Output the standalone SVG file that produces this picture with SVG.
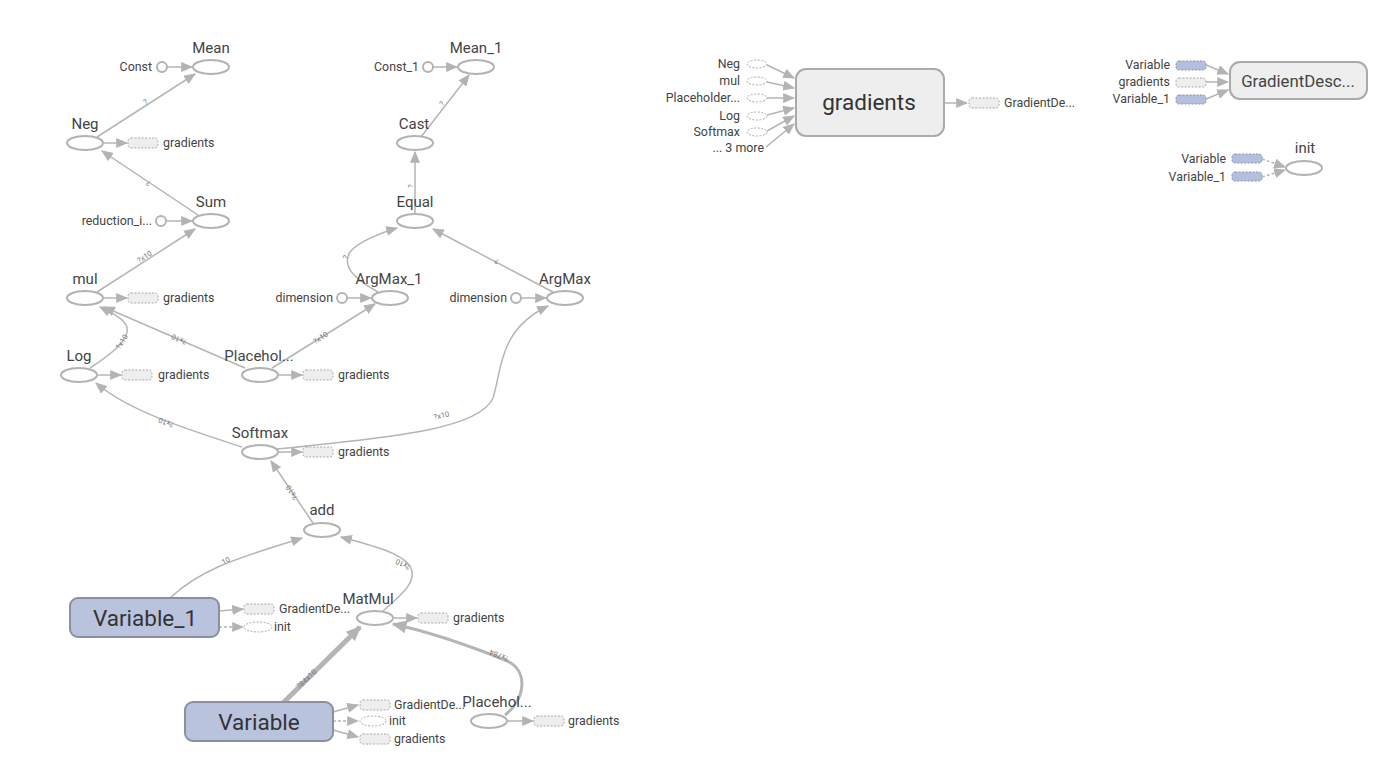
<svg xmlns="http://www.w3.org/2000/svg" width="1400" height="772" viewBox="0 0 1400 772">
<style>
  text { font-family: Roboto, "Liberation Sans", sans-serif; fill: #444; }
  .lbl { font-size: 15px; text-anchor: middle; }
  .sm { font-size: 12.4px; }
  .end { text-anchor: end; }
  .big { font-size: 22.5px; text-anchor: middle; fill: #333; }
  .el { font-size: 7.5px; text-anchor: middle; fill: #777; }
  .op { fill: #fff; stroke: #b3b3b3; stroke-width: 2; }
  .cst { fill: #fff; stroke: #b3b3b3; stroke-width: 2; }
  .sbox { fill: #eee; stroke: #aaa; stroke-width: 1; stroke-dasharray: 2 1.5; }
  .svar { fill: #b4bfdd; stroke: #8c95ad; stroke-width: 1; stroke-dasharray: 2 1.5; }
  .sell { fill: #fff; stroke: #aaa; stroke-width: 1; stroke-dasharray: 2 1.5; }
  .var { fill: #b9c3dd; stroke: #8a90a0; stroke-width: 2; }
  .meta { fill: #eee; stroke: #aaa; stroke-width: 2; }
  .e { fill: none; stroke: #b5b5b5; stroke-width: 1.5; marker-end: url(#arr); }
  .ed { fill: none; stroke: #b5b5b5; stroke-width: 1.5; stroke-dasharray: 3 2; marker-end: url(#arr); }
  .eth { fill: none; stroke: #b5b5b5; marker-end: url(#arrL); }
</style>
<defs>
  <marker id="arr" viewBox="0 0 10 10" refX="9" refY="5" markerWidth="12" markerHeight="10" markerUnits="userSpaceOnUse" orient="auto" preserveAspectRatio="none">
    <path d="M0,0 L10,5 L0,10 z" fill="#b3b3b3"/>
  </marker>
  <marker id="arrL" viewBox="0 0 10 10" refX="9" refY="5" markerWidth="15" markerHeight="13" markerUnits="userSpaceOnUse" orient="auto" preserveAspectRatio="none">
    <path d="M0,0 L10,5 L0,10 z" fill="#b3b3b3"/>
  </marker>
</defs>

<!-- edges of the main graph -->
<g id="edges">
  <path class="e" d="M167,67 L192,67"/>
  <path class="e" d="M97,137 L195,74"/>
  <path class="e" d="M104,143 L127,143"/>
  <path class="e" d="M166,221 L192,221"/>
  <path class="e" d="M198,215 L102,151"/>
  <path class="e" d="M104,298 L127,298"/>
  <path class="e" d="M97,292 L195,229"/>
  <path class="e" d="M98,375 L121,375"/>
  <path class="e" d="M90,368 C110,355 130,340 127,327 C124,318 110,312 100,307"/>
  <path class="e" d="M245,368 L104,307"/>
  <path class="e" d="M279,375 L302,375"/>
  <path class="e" d="M272,368 L375,304"/>
  <path class="e" d="M347,298 L371,298"/>
  <path class="e" d="M521,298 L546,298"/>
  <path class="e" d="M378,292 C360,282 340,268 350,252 C358,242 380,233 397,228"/>
  <path class="e" d="M553,292 L433,229"/>
  <path class="e" d="M415,214 L415,152"/>
  <path class="e" d="M421,137 L469,75"/>
  <path class="e" d="M433,67 L457,67"/>
  <path class="e" d="M279,452 L302,452"/>
  <path class="e" d="M242,447 C190,430 130,412 96,383"/>
  <path class="e" d="M277,449 C400,437 480,428 493,398 C502,370 498,330 548,306"/>
  <path class="e" d="M313,523 L271,461"/>
  <path class="e" d="M170,598 C205,565 250,555 302,538"/>
  <path class="e" d="M219,611 L243,609"/>
  <path class="ed" d="M219,627 L243,627"/>
  <path class="e" d="M383,611 C405,592 418,580 410,566 C400,552 370,545 341,537"/>
  <path class="e" d="M394,618 L417,618"/>
  <path class="eth" stroke-width="5" d="M283,703 L360,627"/>
  <path class="e" d="M333,712 L358,705"/>
  <path class="ed" d="M333,721 L358,721"/>
  <path class="e" d="M333,730 L358,737"/>
  <path class="eth" stroke-width="3" d="M505,715 C525,700 530,670 505,660 C470,646 430,632 393,624"/>
  <path class="e" d="M508,721 L533,721"/>
  <!-- gradients namespace inputs/outputs -->
  <path class="e" d="M767,65 L794,78"/>
  <path class="e" d="M767,82 L794,88"/>
  <path class="e" d="M767,98 L794,98"/>
  <path class="e" d="M767,115 L794,108"/>
  <path class="e" d="M767,131 L794,116"/>
  <path class="e" d="M766,147 L794,124"/>
  <path class="e" d="M944,103 L967,103"/>
  <!-- GradientDescent inputs -->
  <path class="e" d="M1206,65 L1228,74"/>
  <path class="e" d="M1206,82 L1228,82"/>
  <path class="e" d="M1206,99 L1228,90"/>
  <!-- init control deps -->
  <path class="ed" d="M1262,159 L1285,167"/>
  <path class="ed" d="M1262,177 L1285,170"/>
</g>

<!-- tensor shape labels -->
<g id="edge-labels">
  <text class="el" transform="translate(147,104) rotate(-33)">?</text>
  <text class="el" transform="translate(150,181) rotate(214)">?</text>
  <text class="el" transform="translate(146,259) rotate(-32)">?x10</text>
  <text class="el" transform="translate(124,343) rotate(-58)">?x10</text>
  <text class="el" transform="translate(180,337) rotate(203)">?x10</text>
  <text class="el" transform="translate(322,340) rotate(-32)">?x10</text>
  <text class="el" transform="translate(348,258) rotate(-70)">?</text>
  <text class="el" transform="translate(498,259) rotate(207)">?</text>
  <text class="el" transform="translate(413,186) rotate(-90)">?</text>
  <text class="el" transform="translate(444,105) rotate(-52)">?</text>
  <text class="el" transform="translate(167,420) rotate(200)">?x10</text>
  <text class="el" transform="translate(442,418) rotate(-12)">?x10</text>
  <text class="el" transform="translate(294,491) rotate(237)">?x10</text>
  <text class="el" transform="translate(227,563) rotate(-27)">10</text>
  <text class="el" transform="translate(404,562) rotate(205)">?x10</text>
  <text class="el" transform="translate(308,681) rotate(-44)">784x10</text>
  <text class="el" transform="translate(500,653) rotate(200)">?x784</text>
</g>

<g id="Mean">
  <ellipse class="op" cx="211" cy="67" rx="18" ry="7"/>
  <text class="lbl" x="211" y="53">Mean</text>
</g>
<g id="Const">
  <circle class="cst" cx="162" cy="67" r="5"/>
  <text class="sm end" x="152" y="71">Const</text>
</g>
<g id="Neg">
  <ellipse class="op" cx="85" cy="143" rx="18" ry="7"/>
  <text class="lbl" x="85" y="129">Neg</text>
  <rect class="sbox" x="128" y="138" width="30" height="10" rx="3"/>
  <text class="sm" x="163" y="147">gradients</text>
</g>
<g id="Sum">
  <ellipse class="op" cx="211" cy="221" rx="18" ry="7"/>
  <text class="lbl" x="211" y="207">Sum</text>
</g>
<g id="reduction_indices">
  <circle class="cst" cx="161" cy="221" r="5"/>
  <text class="sm end" x="152" y="225">reduction_i...</text>
</g>
<g id="mul">
  <ellipse class="op" cx="85" cy="298" rx="18" ry="7"/>
  <text class="lbl" x="85" y="284">mul</text>
  <rect class="sbox" x="128" y="293" width="30" height="10" rx="3"/>
  <text class="sm" x="163" y="302">gradients</text>
</g>
<g id="Log">
  <ellipse class="op" cx="79" cy="375" rx="18" ry="7"/>
  <text class="lbl" x="79" y="361">Log</text>
  <rect class="sbox" x="122" y="370" width="30" height="10" rx="3"/>
  <text class="sm" x="158" y="379">gradients</text>
</g>
<g id="Placeholder_1">
  <ellipse class="op" cx="260" cy="375" rx="18" ry="7"/>
  <text class="lbl" x="259" y="361">Placehol...</text>
  <rect class="sbox" x="303" y="370" width="30" height="10" rx="3"/>
  <text class="sm" x="338" y="379">gradients</text>
</g>
<g id="ArgMax_1">
  <ellipse class="op" cx="390" cy="298" rx="18" ry="7"/>
  <text class="lbl" x="389" y="284">ArgMax_1</text>
  <circle class="cst" cx="342" cy="298" r="5"/>
  <text class="sm end" x="333" y="302">dimension</text>
</g>
<g id="ArgMax">
  <ellipse class="op" cx="565" cy="298" rx="18" ry="7"/>
  <text class="lbl" x="565" y="284">ArgMax</text>
  <circle class="cst" cx="516" cy="298" r="5"/>
  <text class="sm end" x="507" y="302">dimension</text>
</g>
<g id="Equal">
  <ellipse class="op" cx="415" cy="221" rx="18" ry="7"/>
  <text class="lbl" x="415" y="207">Equal</text>
</g>
<g id="Cast">
  <ellipse class="op" cx="415" cy="143" rx="18" ry="7"/>
  <text class="lbl" x="414" y="129">Cast</text>
</g>
<g id="Mean_1">
  <ellipse class="op" cx="476" cy="67" rx="18" ry="7"/>
  <text class="lbl" x="476" y="53">Mean_1</text>
  <circle class="cst" cx="428" cy="67" r="5"/>
  <text class="sm end" x="419" y="71">Const_1</text>
</g>
<g id="Softmax">
  <ellipse class="op" cx="260" cy="452" rx="18" ry="7"/>
  <text class="lbl" x="260" y="438">Softmax</text>
  <rect class="sbox" x="303" y="447" width="30" height="10" rx="3"/>
  <text class="sm" x="338" y="456">gradients</text>
</g>
<g id="add">
  <ellipse class="op" cx="322" cy="530" rx="18" ry="7"/>
  <text class="lbl" x="322" y="515">add</text>
</g>
<g id="Variable_1">
  <rect class="var" x="70" y="598" width="149" height="39" rx="8"/>
  <text class="big" x="145" y="626">Variable_1</text>
  <rect class="sbox" x="244" y="604" width="30" height="10" rx="3"/>
  <text class="sm" x="279" y="613">GradientDe...</text>
  <ellipse class="sell" cx="258" cy="627" rx="14" ry="5"/>
  <text class="sm" x="274" y="631">init</text>
</g>
<g id="MatMul">
  <ellipse class="op" cx="375" cy="618" rx="18" ry="7"/>
  <text class="lbl" x="368" y="604">MatMul</text>
  <rect class="sbox" x="418" y="613" width="30" height="10" rx="3"/>
  <text class="sm" x="453" y="622">gradients</text>
</g>
<g id="Variable">
  <rect class="var" x="185" y="702" width="148" height="39" rx="8"/>
  <text class="big" x="259" y="730">Variable</text>
  <rect class="sbox" x="360" y="700" width="30" height="10" rx="3"/>
  <text class="sm" x="394" y="709">GradientDe...</text>
  <ellipse class="sell" cx="373" cy="721" rx="13" ry="5"/>
  <text class="sm" x="389" y="725">init</text>
  <rect class="sbox" x="360" y="734" width="30" height="10" rx="3"/>
  <text class="sm" x="394" y="743">gradients</text>
</g>
<g id="Placeholder">
  <ellipse class="op" cx="489" cy="721" rx="18" ry="7"/>
  <text class="lbl" x="497" y="707">Placehol...</text>
  <rect class="sbox" x="534" y="716" width="30" height="10" rx="3"/>
  <text class="sm" x="568" y="725">gradients</text>
</g>

<g id="gradients">
  <rect class="meta" x="796" y="69" width="148" height="67" rx="10"/>
  <text class="big" x="869" y="110">gradients</text>
  <text class="sm end" x="740" y="68">Neg</text>
  <ellipse class="sell" cx="757" cy="64" rx="10" ry="4"/>
  <text class="sm end" x="740" y="85">mul</text>
  <ellipse class="sell" cx="757" cy="81" rx="10" ry="4"/>
  <text class="sm end" x="740" y="102">Placeholder...</text>
  <ellipse class="sell" cx="757" cy="98" rx="10" ry="4"/>
  <text class="sm end" x="740" y="120">Log</text>
  <ellipse class="sell" cx="757" cy="116" rx="10" ry="4"/>
  <text class="sm end" x="740" y="136">Softmax</text>
  <ellipse class="sell" cx="757" cy="132" rx="10" ry="4"/>
  <text class="sm end" x="764" y="152">... 3 more</text>
  <rect class="sbox" x="969" y="98" width="30" height="10" rx="3"/>
  <text class="sm" x="1004" y="107">GradientDe...</text>
</g>

<g id="GradientDescent">
  <rect class="meta" x="1230" y="62" width="137" height="37" rx="10"/>
  <text x="1298" y="87" font-size="16.8" text-anchor="middle" fill="#333">GradientDesc...</text>
  <text class="sm end" x="1170" y="69">Variable</text>
  <rect class="svar" x="1176" y="61" width="30" height="9" rx="3"/>
  <text class="sm end" x="1170" y="86">gradients</text>
  <rect class="sbox" x="1176" y="78" width="30" height="9" rx="3"/>
  <text class="sm end" x="1170" y="103">Variable_1</text>
  <rect class="svar" x="1176" y="95" width="30" height="9" rx="3"/>
</g>

<g id="init">
  <ellipse class="op" cx="1304" cy="168" rx="18" ry="7"/>
  <text class="lbl" x="1305" y="153">init</text>
  <text class="sm end" x="1226" y="163">Variable</text>
  <rect class="svar" x="1232" y="154" width="30" height="9" rx="3"/>
  <text class="sm end" x="1226" y="181">Variable_1</text>
  <rect class="svar" x="1232" y="172" width="30" height="9" rx="3"/>
</g>
</svg>
